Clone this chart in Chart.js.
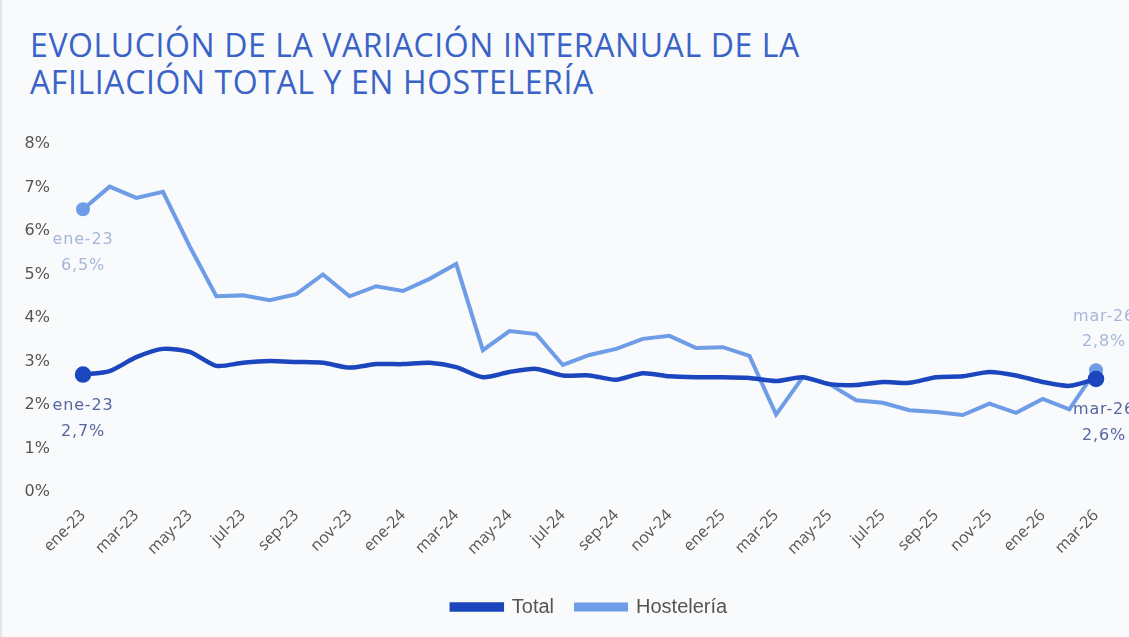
<!DOCTYPE html>
<html lang="es">
<head>
<meta charset="utf-8">
<title>Afiliación total y en hostelería</title>
<script src="https://cdn.jsdelivr.net/npm/chart.js@4.4.1/dist/chart.umd.min.js"></script>
<style>
    html, body {
        margin: 0;
        padding: 0;
        background: #f9fafb;
    }
    #wrap {
        position: relative;
        width: 1129px;
        height: 637px;
        overflow: hidden;
        border-left: 2px solid #e4e6ea;
        box-sizing: border-box;
    }
    #title {
        position: absolute;
        left: 28px;
        top: 26px;
        font-family: "Open Sans", sans-serif;
        font-size: 32px;
        line-height: 37px;
        color: #3a63c8;
        letter-spacing: 0.6px;
    }
    #chart {
        position: absolute;
        left: 0;
        top: 0;
    }
</style>
</head>
<body>
<div id="wrap">
    <div id="title">EVOLUCIÓN DE LA VARIACIÓN INTERANUAL DE LA<br>AFILIACIÓN TOTAL Y EN HOSTELERÍA</div>
    <canvas id="chart" width="1127" height="637"></canvas>
</div>
<script>
const months = [
    "ene-23", "feb-23", "mar-23", "abr-23", "may-23", "jun-23", "jul-23", "ago-23", "sep-23", "oct-23", "nov-23", "dic-23",
    "ene-24", "feb-24", "mar-24", "abr-24", "may-24", "jun-24", "jul-24", "ago-24", "sep-24", "oct-24", "nov-24", "dic-24",
    "ene-25", "feb-25", "mar-25", "abr-25", "may-25", "jun-25", "jul-25", "ago-25", "sep-25", "oct-25", "nov-25", "dic-25",
    "ene-26", "feb-26", "mar-26"
];

const total = [
    2.70, 2.78, 3.10, 3.29, 3.22, 2.90, 2.97, 3.01, 2.99, 2.97, 2.86, 2.94,
    2.94, 2.97, 2.87, 2.64, 2.76, 2.83, 2.68, 2.68, 2.58, 2.73, 2.66, 2.64,
    2.64, 2.62, 2.55, 2.64, 2.48, 2.46, 2.53, 2.51, 2.64, 2.66, 2.76, 2.68,
    2.53, 2.44, 2.60
];

const hosteleria = [
    6.50, 7.02, 6.76, 6.90, 5.65, 4.50, 4.52, 4.41, 4.55, 5.00, 4.50, 4.73,
    4.62, 4.90, 5.24, 3.26, 3.70, 3.63, 2.92, 3.15, 3.29, 3.52, 3.59, 3.31,
    3.33, 3.13, 1.78, 2.64, 2.48, 2.11, 2.05, 1.88, 1.84, 1.77, 2.03, 1.82,
    2.14, 1.90, 2.80
];

const yTicks = [0, 1, 2, 3, 4, 5, 6, 7, 8];

const totalColor = "#1c46bd";
const hostColor = "#6e9ce6";
const font = "'DejaVu Sans', sans-serif";

function fmt(v) {
    return v.toFixed(1).replace(".", ",") + "%";
}

function endRadius(ctx) {
    const n = ctx.dataset.data.length;
    if (ctx.dataIndex !== 0 && ctx.dataIndex !== n - 1) return 0;
    return ctx.datasetIndex === 0 ? 6 : 5;
}

// etiquetas de primer y último punto
const endLabels = {
    id: "endLabels",
    afterDatasetsDraw(chart) {
        const c = chart.ctx;
        c.save();
        c.font = "16px " + font;
        c.letterSpacing = "0.8px";
        c.textAlign = "center";
        c.textBaseline = "middle";
        chart.data.datasets.forEach((ds, di) => {
            const meta = chart.getDatasetMeta(di);
            const last = ds.data.length - 1;
            ds.labelSpots.forEach(spot => {
                const idx = spot.first ? 0 : last;
                const pt = meta.data[idx];
                const dx = spot.first ? 0 : 8;
                const dy = spot.above ? [-53, -28] : [31, 57];
                c.fillStyle = ds.labelColor;
                c.fillText(months[idx], pt.x + dx, pt.y + dy[0]);
                c.fillText(fmt(ds.data[idx]), pt.x + dx, pt.y + dy[1]);
            });
        });
        c.restore();
    }
};

new Chart(document.getElementById("chart"), {
    type: "line",
    data: {
        labels: months,
        datasets: [
            {
                label: "Total",
                data: total,
                borderColor: totalColor,
                backgroundColor: totalColor,
                borderWidth: 4.5,
                tension: 0.25,
                pointRadius: endRadius,
                pointHoverRadius: endRadius,
                labelColor: "#56669f",
                labelSpots: [{ first: true, above: false }, { first: false, above: false }]
            },
            {
                label: "Hostelería",
                data: hosteleria,
                borderColor: hostColor,
                backgroundColor: hostColor,
                borderWidth: 4,
                tension: 0,
                pointRadius: endRadius,
                pointHoverRadius: endRadius,
                labelColor: "#a5b7da",
                labelSpots: [{ first: true, above: false }, { first: false, above: true }]
            }
        ]
    },
    options: {
        responsive: false,
        maintainAspectRatio: false,
        animation: false,
        layout: {
            padding: { top: 144, left: 20, right: 33, bottom: 10 }
        },
        plugins: {
            legend: {
                position: "bottom",
                fullSize: false,
                labels: {
                    boxWidth: 50,
                    boxHeight: 5,
                    padding: 22,
                    color: "#555",
                    font: { family: "'Liberation Sans', Arial, sans-serif", size: 20 }
                }
            },
            tooltip: { enabled: false }
        },
        scales: {
            x: {
                grid: { display: false, drawTicks: false },
                border: { display: false },
                afterFit: s => { s.height = 83; },
                ticks: {
                    autoSkip: false,
                    maxRotation: 45,
                    minRotation: 45,
                    color: "#555",
                    padding: 14,
                    font: { family: "'Open Sans', sans-serif", size: 16 },
                    callback: (v, i) => i % 2 === 0 ? months[i] : ""
                }
            },
            y: {
                min: 0,
                max: 8,
                afterBuildTicks: s => { s.ticks = yTicks.map(v => ({ value: v })); },
                grid: { display: false, drawTicks: false },
                border: { display: false },
                afterFit: s => { s.width = 61; },
                ticks: {
                    color: "#555",
                    padding: 33,
                    font: { family: font, size: 16 },
                    callback: v => v + "%"
                }
            }
        }
    },
    plugins: [endLabels]
});
</script>
</body>
</html>
